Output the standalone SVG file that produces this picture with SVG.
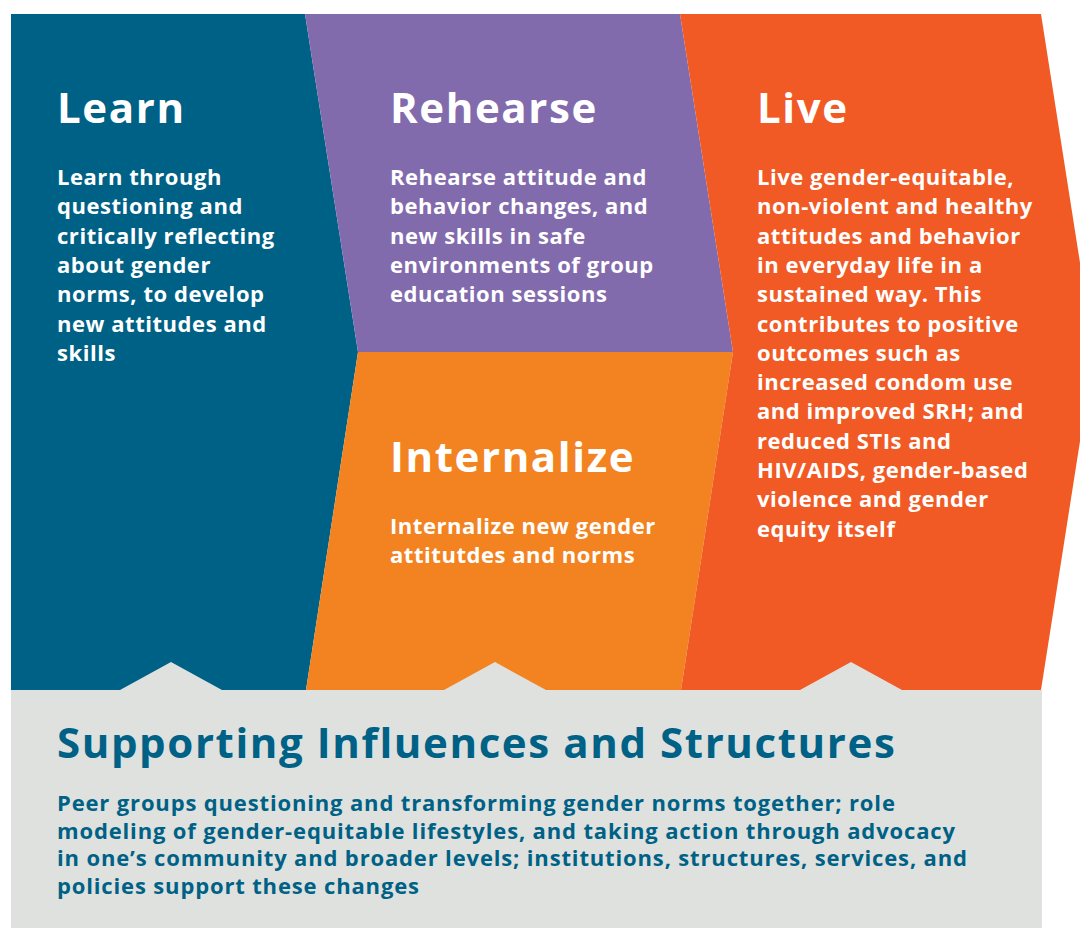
<svg xmlns="http://www.w3.org/2000/svg" width="1080" height="928" viewBox="0 0 1080 928">
  <style>
    .title { font-family: "Open Sans", "Liberation Sans", sans-serif; font-weight: 700; font-size: 42px; letter-spacing: 1.6px; fill: #ffffff; }
    .body { font-family: "Open Sans", "Liberation Sans", sans-serif; font-weight: 700; font-size: 22px; letter-spacing: 0.55px; fill: #ffffff; }
    .stitle { font-family: "Open Sans", "Liberation Sans", sans-serif; font-weight: 700; font-size: 42px; letter-spacing: 1.6px; fill: #006186; }
    .sbody { font-family: "Open Sans", "Liberation Sans", sans-serif; font-weight: 700; font-size: 22px; letter-spacing: 0.85px; fill: #006186; }
  </style>
  <rect x="0" y="0" width="1080" height="928" fill="#ffffff"/>
  <g id="learn">
    <polygon points="11,14 305,14 358,352 306,690 11,690" fill="#006186"/>
    <text class="title" x="57" y="123">Learn</text>
    <text class="body">
      <tspan x="57" y="185">Learn through</tspan>
      <tspan x="57" y="214.3">questioning and</tspan>
      <tspan x="57" y="243.6">critically reflecting</tspan>
      <tspan x="57" y="272.9">about gender</tspan>
      <tspan x="57" y="302.2">norms, to develop</tspan>
      <tspan x="57" y="331.5">new attitudes and</tspan>
      <tspan x="57" y="360.8">skills</tspan>
    </text>
  </g>
  <g id="rehearse">
    <polygon points="305,14 680,14 733,352 358,352" fill="#826bad"/>
    <text class="title" x="390" y="123">Rehearse</text>
    <text class="body">
      <tspan x="390" y="185">Rehearse attitude and</tspan>
      <tspan x="390" y="214.3">behavior changes, and</tspan>
      <tspan x="390" y="243.6">new skills in safe</tspan>
      <tspan x="390" y="272.9">environments of group</tspan>
      <tspan x="390" y="302.2">education sessions</tspan>
    </text>
  </g>
  <g id="internalize">
    <polygon points="358,352 733,352 681,690 306,690" fill="#f38321"/>
    <text class="title" x="390" y="472">Internalize</text>
    <text class="body">
      <tspan x="390" y="534">Internalize new gender</tspan>
      <tspan x="390" y="563.3">attitutdes and norms</tspan>
    </text>
  </g>
  <g id="live">
    <polygon points="680,14 1041,14 1094,352 1041,690 681,690 733,352" fill="#f15a24"/>
    <text class="title" x="757" y="123">Live</text>
    <text class="body">
      <tspan x="757" y="185">Live gender-equitable,</tspan>
      <tspan x="757" y="214.3">non-violent and healthy</tspan>
      <tspan x="757" y="243.6">attitudes and behavior</tspan>
      <tspan x="757" y="272.9">in everyday life in a</tspan>
      <tspan x="757" y="302.2">sustained way. This</tspan>
      <tspan x="757" y="331.5">contributes to positive</tspan>
      <tspan x="757" y="360.8">outcomes such as</tspan>
      <tspan x="757" y="390.1">increased condom use</tspan>
      <tspan x="757" y="419.4">and improved SRH; and</tspan>
      <tspan x="757" y="448.7">reduced STIs and</tspan>
      <tspan x="757" y="478">HIV/AIDS, gender-based</tspan>
      <tspan x="757" y="507.3">violence and gender</tspan>
      <tspan x="757" y="536.6">equity itself</tspan>
    </text>
  </g>
  <g id="supporting">
    <polygon points="11,690 120,690 171,662 222,690 444,690 495,662 546,690 800,690 851,662 902,690 1042,690 1042,928 11,928" fill="#dfe1de"/>
    <text class="stitle" x="57" y="758">Supporting Influences and Structures</text>
    <text class="sbody">
      <tspan x="57" y="811">Peer groups questioning and transforming gender norms together; role</tspan>
      <tspan x="57" y="838.5">modeling of gender-equitable lifestyles, and taking action through advocacy</tspan>
      <tspan x="57" y="866">in one’s community and broader levels; institutions, structures, services, and</tspan>
      <tspan x="57" y="893.5">policies support these changes</tspan>
    </text>
  </g>
  <g id="connectors"/>
</svg>
